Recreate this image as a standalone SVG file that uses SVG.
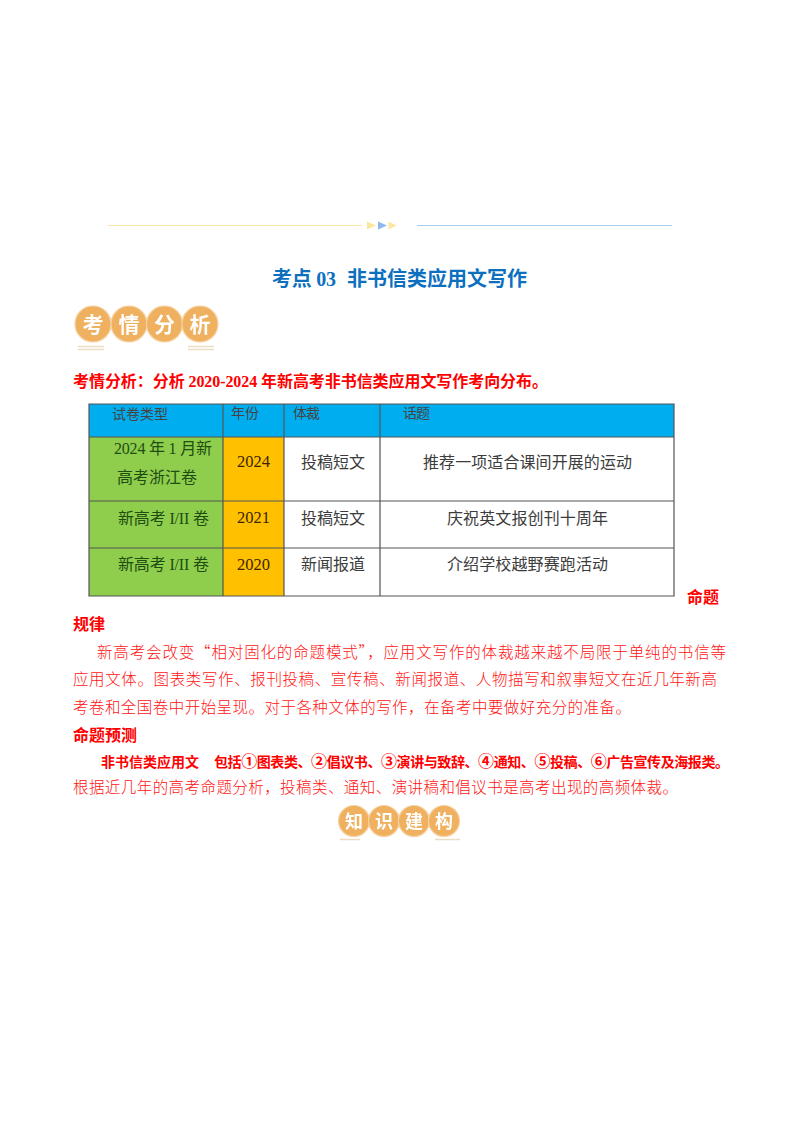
<svg xmlns="http://www.w3.org/2000/svg" width="800" height="1132" viewBox="0 0 800 1132">
<style>
text{font-family:"Liberation Serif","Noto Sans CJK SC",serif;font-size:16px;fill:#3c3c3c}
.red{fill:#ff1414;font-size:15.500px;font-family:"Noto Sans CJK SC","Liberation Serif",sans-serif;font-weight:300}
.b{fill:#fe0000;font-weight:700}
.bc{font-family:"Noto Sans CJK SC","Liberation Serif",sans-serif;font-size:14px}
.n{font-size:16px}
.h{fill:#444;font-size:14px}
.g{fill:#1d4d12}
.y{fill:#3a2400;font-size:16.500px}
.t{font-size:20px;font-weight:700;fill:#0c70bf}
.coin{fill:#efb05f;stroke:#f7d3a3;stroke-width:1.200}
.ct{fill:#fff;font-weight:700;text-anchor:middle;font-family:"Noto Sans CJK SC",sans-serif}
.big{font-size:21px}
.small{font-size:18px}
.ln{stroke:#ecdcc4;stroke-width:1.500;fill:none}
.grid{stroke:#555;stroke-width:1.200;fill:none}
</style>
<defs><filter id="soft" x="-5%" y="-5%" width="110%" height="110%"><feGaussianBlur stdDeviation="0.400"/></filter></defs>
<rect width="800" height="1132" fill="#fff"/>
<g id="divider">
<rect x="108" y="225" width="254" height="1" fill="#fbe6a4"/>
<polygon points="367,221.500 376,225.500 367,229.500" fill="#fbe79e"/>
<polygon points="378,221.500 387,225.500 378,229.500" fill="#8fb8f0"/>
<polygon points="388.500,221.500 396.500,225.500 388.500,229.500" fill="#fbe79e"/>
<rect x="417" y="225" width="255" height="1" fill="#a6cdf0"/>
</g>
<g id="title">
<text class="t" x="272" y="286" textLength="64">考点 03</text>
<text class="t" x="347" y="286" textLength="180">非书信类应用文写作</text>
</g>
<g id="badge1" filter="url(#soft)">
<circle class="coin" cx="93" cy="324" r="18"/><circle class="coin" cx="129" cy="324" r="18"/><circle class="coin" cx="164.500" cy="324" r="18"/><circle class="coin" cx="200" cy="324" r="18"/>
<text class="ct big" x="93" y="331.500">考</text><text class="ct big" x="129" y="331.500">情</text><text class="ct big" x="164.500" y="331.500">分</text><text class="ct big" x="200" y="331.500">析</text>
<path class="ln" d="M78 346.500H104M78 349.500H104M188 346.500H214M188 349.500H214"/>
</g>
<text id="intro" class="b" x="73" y="387" textLength="475">考情分析：分析 2020-2024 年新高考非书信类应用文写作考向分布。</text>
<g id="table">
<rect x="89" y="404" width="585" height="33" fill="#00aeef"/>
<rect x="89" y="437" width="134" height="159" fill="#8fce4c"/>
<rect x="223" y="437" width="61" height="159" fill="#ffc000"/>
<path class="grid" d="M89 404H674V596H89ZM89 437H674M89 501H674M89 548H674M223 404V596M284 404V596M380 404V596"/>
<text class="h" x="112" y="419" textLength="56">试卷类型</text>
<text class="h" x="231" y="418" textLength="28">年份</text>
<text class="h" x="293" y="418" textLength="27">体裁</text>
<text class="h" x="403" y="418" textLength="27">话题</text>
<text class="g" x="114" y="454" textLength="98">2024 年 1 月新</text>
<text class="g" x="117" y="483" textLength="80">高考浙江卷</text>
<text class="g" x="118" y="524" textLength="91">新高考 I/II 卷</text>
<text class="g" x="118" y="570" textLength="91">新高考 I/II 卷</text>
<text class="y" x="237" y="467">2024</text><text class="y" x="237" y="523">2021</text><text class="y" x="237" y="570">2020</text>
<text x="301" y="468" textLength="64">投稿短文</text>
<text x="301" y="524" textLength="64">投稿短文</text>
<text x="301" y="570" textLength="64">新闻报道</text>
<text x="423" y="468" textLength="209">推荐一项适合课间开展的运动</text>
<text x="447" y="524" textLength="161">庆祝英文报创刊十周年</text>
<text x="447" y="570" textLength="161">介绍学校越野赛跑活动</text>
</g>
<g id="body">
<text class="b" x="687" y="603" textLength="32">命题</text>
<text class="b" x="73" y="630" textLength="32">规律</text>
<text class="red" x="97" y="658" textLength="629">新高考会改变“相对固化的命题模式”，应用文写作的体裁越来越不局限于单纯的书信等</text>
<text class="red" x="73" y="685" textLength="644">应用文体。图表类写作、报刊投稿、宣传稿、新闻报道、人物描写和叙事短文在近几年新高</text>
<text class="red" x="73" y="713" textLength="558">考卷和全国卷中开始呈现。对于各种文体的写作，在备考中要做好充分的准备。</text>
<text class="b" x="73" y="741" textLength="64">命题预测</text>
<text class="b bc" x="101" y="767" textLength="98">非书信类应用文</text>
<text class="b bc" x="214" y="767" textLength="515">包括<tspan class="n">①</tspan>图表类、<tspan class="n">②</tspan>倡议书、<tspan class="n">③</tspan>演讲与致辞、<tspan class="n">④</tspan>通知、<tspan class="n">⑤</tspan>投稿、<tspan class="n">⑥</tspan>广告宣传及海报类。</text>
<text class="red" x="73" y="793" textLength="605">根据近几年的高考命题分析，投稿类、通知、演讲稿和倡议书是高考出现的高频体裁。</text>
</g>
<g id="badge2" filter="url(#soft)">
<circle class="coin" cx="354" cy="821" r="15.500"/><circle class="coin" cx="384" cy="821" r="15.500"/><circle class="coin" cx="414" cy="821" r="15.500"/><circle class="coin" cx="444" cy="821" r="15.500"/>
<text class="ct small" x="354" y="827.500">知</text><text class="ct small" x="384" y="827.500">识</text><text class="ct small" x="414" y="827.500">建</text><text class="ct small" x="444" y="827.500">构</text>
<path class="ln" d="M340 839.500H360M435 839.500H460"/>
</g>
</svg>
